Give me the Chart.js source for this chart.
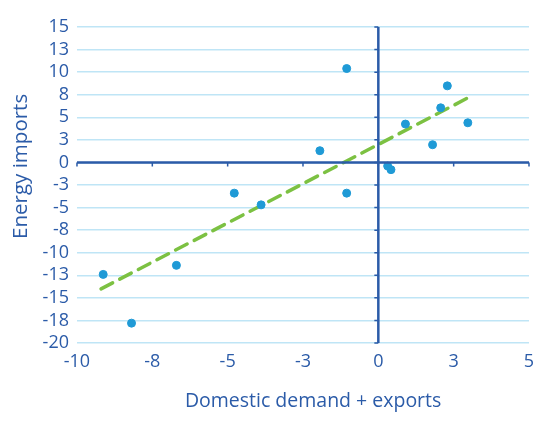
<!DOCTYPE html>
<html>
<head>
<meta charset="utf-8">
<script src="https://cdn.jsdelivr.net/npm/chart.js@4"></script>
<style>
  html, body { margin: 0; padding: 0; background: #fff; overflow: hidden; }
  #wrap { width: 540px; height: 433px; }
</style>
</head>
<body>
<div id="wrap"><canvas id="grafico"></canvas></div>
<script>
// scatter values
const demandX = [-9.13, -8.19, -6.70, -4.78, -3.89, -1.94, -1.05, -1.05, 0.31, 0.42, 0.90, 1.80, 2.07, 2.29, 2.97];
const importsY = [-12.4, -17.8, -11.4, -3.4, -4.7, 1.3, -3.4, 10.4, -0.4, -0.8, 4.25, 1.96, 6.05, 8.48, 4.39];

// trend line end points
const trendX = [-9.2, 3.0];
const trendY = [-14.0, 7.2];

const xMin = -10, xMax = 5, xStep = 2.5;
const yMin = -20, yMax = 15, yStep = 2.5;

const azul = '#2b5ba8';
const fuente = "'Open Sans', sans-serif";

// redondeo como en la hoja de calculo (-2.5 -> -3)
const redondear = v => Math.sign(v) * Math.round(Math.abs(v));

// dibuja los ejes en cero con sus marcas
const ejesCero = {
  id: 'ejesCero',
  afterDatasetsDraw(chart) {
    const ctx = chart.ctx;
    const x = chart.scales.x, y = chart.scales.y;
    const x0 = x.getPixelForValue(0), y0 = y.getPixelForValue(0);
    ctx.save();
    ctx.strokeStyle = azul;
    ctx.lineWidth = 2.5;
    ctx.beginPath();
    ctx.moveTo(x.left, y0); ctx.lineTo(x.right, y0);
    ctx.moveTo(x0, y.top); ctx.lineTo(x0, y.bottom);
    ctx.stroke();
    ctx.lineWidth = 1.5;
    ctx.beginPath();
    y.ticks.forEach(t => {
      const p = y.getPixelForValue(t.value);
      ctx.moveTo(x0 - 4, p); ctx.lineTo(x0, p);
    });
    x.ticks.forEach(t => {
      const p = x.getPixelForValue(t.value);
      ctx.moveTo(p, y0); ctx.lineTo(p, y0 + 4);
    });
    ctx.stroke();
    ctx.restore();
  }
};

new Chart(document.getElementById('grafico'), {
  type: 'scatter',
  data: {
    datasets: [{
      label: 'Tendencia',
      type: 'line',
      data: trendX.map((v, i) => ({ x: v, y: trendY[i] })),
      borderColor: '#7cc142',
      borderWidth: 3.5,
      borderDash: [13, 8],
      borderCapStyle: 'round',
      pointRadius: 0,
      fill: false,
      order: 2
    }, {
      label: 'Datos',
      data: demandX.map((v, i) => ({ x: v, y: importsY[i] })),
      backgroundColor: '#1f9ad6',
      borderColor: '#1f9ad6',
      pointRadius: 4,
      order: 1
    }]
  },
  options: {
    responsive: true,
    maintainAspectRatio: false,
    animation: false,
    layout: { padding: { top: 27, right: 11, left: 5, bottom: 16 } },
    plugins: { legend: { display: false }, tooltip: { enabled: false } },
    scales: {
      x: {
        type: 'linear', min: xMin, max: xMax,
        border: { display: false },
        grid: { display: false },
        ticks: {
          stepSize: xStep, color: azul, padding: 0, autoSkip: false, maxRotation: 0,
          font: { family: fuente, size: 18 },
          callback: v => redondear(v)
        },
        title: {
          display: true, text: '    Domestic demand + exports', color: azul,
          font: { family: fuente, size: 19.5 }, padding: { top: 17 }
        }
      },
      y: {
        type: 'linear', min: yMin, max: yMax,
        border: { display: false },
        grid: { color: '#bfe5f6', lineWidth: 1.5, drawTicks: false },
        ticks: {
          stepSize: yStep, color: azul, padding: 8, autoSkip: false,
          font: { family: fuente, size: 18 },
          callback: v => redondear(v)
        },
        title: {
          display: true, text: '       Energy imports', color: azul,
          font: { family: fuente, size: 20.5 }, padding: { bottom: 1 }
        }
      }
    }
  },
  plugins: [ejesCero]
});
</script>
</body>
</html>
